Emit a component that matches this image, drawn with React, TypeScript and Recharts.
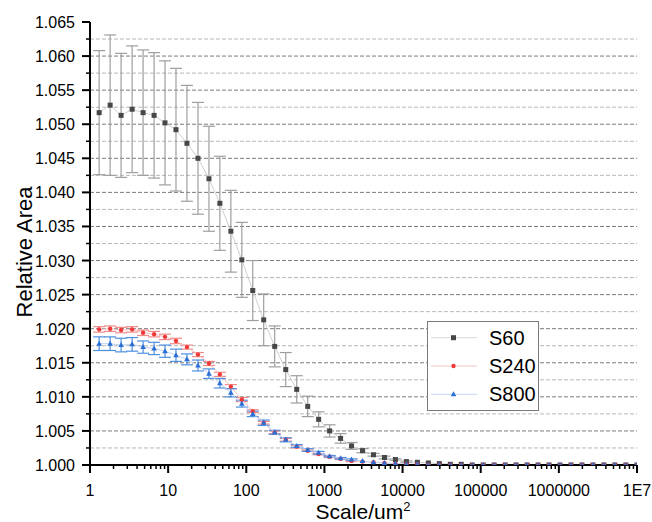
import React from 'react';
import { ComposedChart, Line, XAxis, YAxis, ErrorBar, ReferenceLine } from 'recharts';

const scales = [1.31, 1.81, 2.5, 3.46, 4.78, 6.61, 9.12, 12.6, 17.4, 24.1, 33.3, 45.9, 63.5, 87.7, 121, 167, 231, 320, 442, 611, 843, 1165, 1610, 2224, 3073, 4246, 5866, 8105, 11200, 15480, 21380, 29540, 40810, 56380, 77900, 107640, 148700, 205500, 283900, 392300, 542000, 748800, 1034600, 1429400, 1975000, 2728800, 3770000, 5209000, 7197000, 10000000];

const s60 = [1.0517, 1.0528, 1.0513, 1.0522, 1.0517, 1.0513, 1.0502, 1.0492, 1.0472, 1.045, 1.042, 1.0384, 1.0343, 1.0301, 1.0256, 1.0213, 1.0174, 1.014, 1.0111, 1.0086, 1.0067, 1.005, 1.0039, 1.0028, 1.0021, 1.0015, 1.0011, 1.0008, 1.0005, 1.0004, 1.0003, 1.0002, 1.0001, 1.0001, 1.0, 1.0, 1.0, 1.0, 1.0, 1.0, 1.0, 1.0, 1.0, 1.0, 1.0, 1.0, 1.0, 1.0, 1.0, 1.0];
const s60Err = [0.0091, 0.0103, 0.0091, 0.0093, 0.0092, 0.0092, 0.0091, 0.009, 0.0085, 0.0082, 0.0077, 0.0069, 0.006, 0.0055, 0.0044, 0.0038, 0.003, 0.0025, 0.002, 0.0015, 0.0011, 0.0009, 0.0007, 0.0005, 0.0003, 0.0002, 0.0002, 0.0001, 0.0001, 0, 0, 0, 0, 0, 0, 0, 0, 0, 0, 0, 0, 0, 0, 0, 0, 0, 0, 0, 0, 0];

const s240 = [1.0199, 1.02, 1.0198, 1.0199, 1.0194, 1.0192, 1.0188, 1.0182, 1.0173, 1.0162, 1.0149, 1.0133, 1.0115, 1.0096, 1.0079, 1.0062, 1.0048, 1.0037, 1.0027, 1.0021, 1.0016, 1.0012, 1.0009, 1.0006, 1.0005, 1.0004, 1.0003, 1.0002, 1.0001, 1.0001, 1.0, 1.0, 1.0, 1.0, 1.0, 1.0, 1.0, 1.0, 1.0, 1.0, 1.0, 1.0, 1.0, 1.0, 1.0, 1.0, 1.0, 1.0, 1.0, 1.0];
const s240Err = [0.0004, 0.0004, 0.0004, 0.0004, 0.0004, 0.0004, 0.0004, 0.0004, 0.0003, 0.0003, 0.0003, 0.0003, 0.0003, 0.0003, 0.0002, 0.0002, 0.0002, 0.0002, 0.0002, 0.0001, 0.0001, 0.0001, 0.0001, 0.0001, 0, 0, 0, 0, 0, 0, 0, 0, 0, 0, 0, 0, 0, 0, 0, 0, 0, 0, 0, 0, 0, 0, 0, 0, 0, 0];

const s800 = [1.0178, 1.0178, 1.0176, 1.0177, 1.0173, 1.0171, 1.0167, 1.0161, 1.0155, 1.0146, 1.0134, 1.012, 1.0106, 1.009, 1.0075, 1.0062, 1.0048, 1.0037, 1.0028, 1.0022, 1.0018, 1.0013, 1.001, 1.0008, 1.0006, 1.0004, 1.0003, 1.0002, 1.0001, 1.0001, 1.0, 1.0, 1.0, 1.0, 1.0, 1.0, 1.0, 1.0, 1.0, 1.0, 1.0, 1.0, 1.0, 1.0, 1.0, 1.0, 1.0, 1.0, 1.0, 1.0];
const s800Err = [0.001, 0.001, 0.001, 0.001, 0.0009, 0.0009, 0.0009, 0.0009, 0.0008, 0.0008, 0.0007, 0.0007, 0.0006, 0.0005, 0.0004, 0.0004, 0.0003, 0.0003, 0.0002, 0.0002, 0.0002, 0.0001, 0.0001, 0.0001, 0, 0, 0, 0, 0, 0, 0, 0, 0, 0, 0, 0, 0, 0, 0, 0, 0, 0, 0, 0, 0, 0, 0, 0, 0, 0];

const seriesNames = ['S60', 'S240', 'S800'];

const xMajorTicks = [1, 10, 100, 1000, 10000, 100000, 1000000, 10000000];
const xTickLabels = ['1', '10', '100', '1000', '10000', '100000', '1000000', '1E7'];
const xMinorMultipliers = [2, 3, 4, 5, 6, 7, 8, 9];

const yMajorTicks = [1.0, 1.005, 1.01, 1.015, 1.02, 1.025, 1.03, 1.035, 1.04, 1.045, 1.05, 1.055, 1.06, 1.065];
const yTickLabels = ['1.000', '1.005', '1.010', '1.015', '1.020', '1.025', '1.030', '1.035', '1.040', '1.045', '1.050', '1.055', '1.060', '1.065'];
const yMinorTicks = [1.0025, 1.0075, 1.0125, 1.0175, 1.0225, 1.0275, 1.0325, 1.0375, 1.0425, 1.0475, 1.0525, 1.0575, 1.0625];

const xAllTicks: number[] = [];
xMajorTicks.forEach((m, i) => {
  xAllTicks.push(m);
  if (i < xMajorTicks.length - 1) xMinorMultipliers.forEach((k) => xAllTicks.push(m * k));
});
const yAllTicks = [...yMajorTicks, ...yMinorTicks].sort((a, b) => a - b);
const yGridValues = yAllTicks.filter((v) => v > 1.0001 && v < 1.0649);

const data = scales.map((x, i) => ({
  x,
  s60: s60[i],
  s60Err: s60Err[i],
  s240: s240[i],
  s240Err: s240Err[i],
  s800: s800[i],
  s800Err: s800Err[i],
}));

const FONT = 'Liberation Sans, Arial, sans-serif';

const XTick = (props: any) => {
  const { x, y, payload } = props;
  const v = payload.value;
  const idx = xMajorTicks.findIndex((t) => Math.abs(t - v) / t < 1e-6);
  const major = idx >= 0;
  return (
    <g>
      <line x1={x} x2={x} y1={y} y2={y + (major ? 8 : 4)} stroke="#000" strokeWidth={major ? 2 : 1.5} />
      {major && (
        <text x={x} y={y + 31} textAnchor="middle" fontSize={16} fontFamily={FONT} fill="#000">
          {xTickLabels[idx]}
        </text>
      )}
    </g>
  );
};

const YTick = (props: any) => {
  const { x, y, payload } = props;
  const v = payload.value;
  const idx = yMajorTicks.findIndex((t) => Math.abs(t - v) < 1e-7);
  const major = idx >= 0;
  return (
    <g>
      <line x1={x} x2={x - (major ? 8 : 4)} y1={y} y2={y} stroke="#000" strokeWidth={major ? 2 : 1.5} />
      {major && (
        <text x={x - 15} y={y + 6} textAnchor="end" fontSize={16} fontFamily={FONT} fill="#000">
          {yTickLabels[idx]}
        </text>
      )}
    </g>
  );
};

const squareDot = (p: any) =>
  p.cx == null || p.cy == null ? <g key={p.index} /> : (
    <rect key={p.index} x={p.cx - 2.5} y={p.cy - 2.5} width={5} height={5} fill="#474747" />
  );
const circleDot = (p: any) =>
  p.cx == null || p.cy == null ? <g key={p.index} /> : (
    <circle key={p.index} cx={p.cx} cy={p.cy} r={2.2} fill="#f03a3a" />
  );
const triDot = (p: any) =>
  p.cx == null || p.cy == null ? <g key={p.index} /> : (
    <polygon key={p.index} points={`${p.cx},${p.cy - 3} ${p.cx - 2.8},${p.cy + 2} ${p.cx + 2.8},${p.cy + 2}`} fill="#2b6ed6" />
  );

const XTitle = () => (
  <text x={363} y={519} textAnchor="middle" fontSize={21} fontFamily={FONT} fill="#000">
    Scale/um
    <tspan fontSize={13} dy={-8}>2</tspan>
  </text>
);
const YTitle = () => (
  <text x={32} y={252} transform="rotate(-90 32 252)" textAnchor="middle" fontSize={22} fontFamily={FONT} fill="#000">
    Relative Area
  </text>
);

const legendLine = ['#d8d8d8', '#f6c4c4', '#c4d6f4'];

export default function App() {
  return (
    <div style={{ position: 'absolute', left: 0, top: 0, width: 652, height: 522, background: '#fff' }}>
      <ComposedChart width={652} height={522} data={data} margin={{ top: 22, right: 15, bottom: 0, left: 0 }}>
        {yGridValues.map((v) => {
          const major = yMajorTicks.some((t) => Math.abs(t - v) < 1e-7);
          return (
            <ReferenceLine
              key={v}
              y={v}
              stroke={major ? '#7a7a7a' : '#b8b8b8'}
              strokeWidth={1}
              strokeDasharray="4 2"
            />
          );
        })}
        <XAxis
          dataKey="x"
          type="number"
          scale="log"
          domain={[1, 10000000]}
          ticks={xAllTicks}
          interval={0}
          tick={<XTick />}
          tickLine={false}
          tickSize={0}
          tickMargin={0}
          axisLine={{ stroke: '#000', strokeWidth: 2 }}
          height={57}
          allowDataOverflow
          label={{ content: () => <XTitle /> }}
        />
        <YAxis
          type="number"
          domain={[1, 1.065]}
          ticks={yAllTicks}
          interval={0}
          tick={<YTick />}
          tickLine={false}
          tickSize={0}
          tickMargin={0}
          axisLine={{ stroke: '#000', strokeWidth: 2 }}
          width={90}
          allowDataOverflow
          label={{ content: () => <YTitle /> }}
        />
        <Line dataKey="s60" name={seriesNames[0]} stroke="#d0d0d0" strokeWidth={1} dot={squareDot} activeDot={false} isAnimationActive={false}>
          <ErrorBar dataKey="s60Err" width={6} stroke="#9e9e9e" strokeWidth={1.2} direction="y" />
        </Line>
        <Line dataKey="s240" name={seriesNames[1]} stroke="#f6c0c0" strokeWidth={1} dot={circleDot} activeDot={false} isAnimationActive={false}>
          <ErrorBar dataKey="s240Err" width={6} stroke="#f08a8a" strokeWidth={1.2} direction="y" />
        </Line>
        <Line dataKey="s800" name={seriesNames[2]} stroke="#bfd3f3" strokeWidth={1} dot={triDot} activeDot={false} isAnimationActive={false}>
          <ErrorBar dataKey="s800Err" width={6} stroke="#4d8fe0" strokeWidth={1.2} direction="y" />
        </Line>
      </ComposedChart>
      <svg style={{ position: 'absolute', left: 427, top: 321 }} width={113} height={91}>
        <rect x={0.5} y={0.5} width={111} height={89} fill="#fff" stroke="#7a7a7a" strokeWidth={1} />
        {seriesNames.map((n, i) => {
          const cy = 16.7 + i * 28.3;
          return (
            <g key={n}>
              <line x1={4} x2={50} y1={cy} y2={cy} stroke={legendLine[i]} strokeWidth={1} />
              {i === 0 && <rect x={24} y={cy - 2.5} width={5} height={5} fill="#474747" />}
              {i === 1 && <circle cx={26.5} cy={cy} r={2.2} fill="#f03a3a" />}
              {i === 2 && <polygon points={`26.5,${cy - 3} 23.7,${cy + 2} 29.3,${cy + 2}`} fill="#2b6ed6" />}
              <text x={62} y={cy + 7} fontSize={20} fontFamily={FONT} fill="#000">{n}</text>
            </g>
          );
        })}
      </svg>
    </div>
  );
}
